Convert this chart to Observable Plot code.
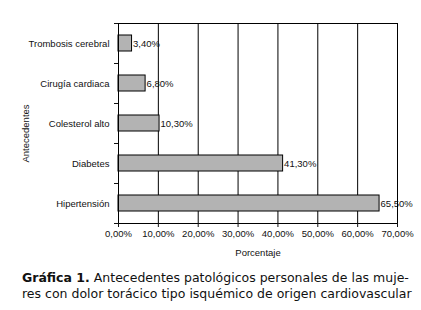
<!DOCTYPE html>
<html>
<head>
<meta charset="utf-8">
<script src="https://cdn.jsdelivr.net/npm/d3@7"></script>
<script src="https://cdn.jsdelivr.net/npm/@observablehq/plot@0.6"></script>
<style>
  body { margin: 0; background: #fff; }
  #chart svg { display: block; }
  #caption { margin: 8px 0 0 22px; font-family: "DejaVu Sans", sans-serif; font-size: 12.5px; line-height: 16px; color: #111; white-space: nowrap; }
</style>
</head>
<body>
<div id="chart"></div>
<div id="caption"><b>Gráfica 1.</b> Antecedentes patológicos personales de las muje-<br>res con dolor torácico tipo isquémico de origen cardiovascular</div>
<script>
const categories = ["Hipertensión", "Diabetes", "Colesterol alto", "Cirugía cardiaca", "Trombosis cerebral"];
const values = [65.5, 41.3, 10.3, 6.8, 3.4];
const xTicks = [0, 10, 20, 30, 40, 50, 60, 70];

const fmt = v => v.toFixed(2).replace(".", ",") + "%";
const data = categories.map((c, i) => ({cat: c, i, v: values[i]}));
const bounds = d3.range(categories.length + 1);

const plot = Plot.plot({
  width: 421,
  height: 262,
  marginLeft: 118,
  marginRight: 24,
  marginTop: 23,
  marginBottom: 39,
  style: {fontFamily: "'Liberation Sans', Arial, sans-serif", fontSize: "9.5px", color: "#111", background: "#fff"},
  x: {domain: [0, 70]},
  y: {domain: [0, categories.length]},
  marks: [
    Plot.gridX(xTicks, {stroke: "#000", strokeOpacity: 1, strokeWidth: 1}),
    Plot.rectX(data, {x1: 0, x2: "v", y1: d => d.i + 0.3, y2: d => d.i + 0.7, fill: "#b3b3b3", stroke: "#000", strokeWidth: 1}),
    Plot.text(data, {x: "v", y: d => d.i + 0.5, text: d => fmt(d.v), textAnchor: "start", dx: 1, fill: "#111"}),
    Plot.frame({stroke: "#000", strokeWidth: 1}),
    Plot.axisX(xTicks, {tickFormat: fmt, tickSize: 4, tickPadding: 3, label: "Porcentaje", labelAnchor: "center", labelArrow: "none", labelOffset: 32}),
    Plot.axisY(bounds, {tickSize: 4, tickFormat: () => "", label: null}),
    Plot.axisY(data.map(d => d.i + 0.5), {tickSize: 0, tickPadding: 9, tickFormat: d => categories[Math.floor(d)], label: null}),
    Plot.text(["Antecedentes"], {frameAnchor: "left", textAnchor: "middle", rotate: -90, dx: -93, dy: 10, fill: "#111"})
  ]
});
document.getElementById("chart").appendChild(plot);
</script>
</body>
</html>
